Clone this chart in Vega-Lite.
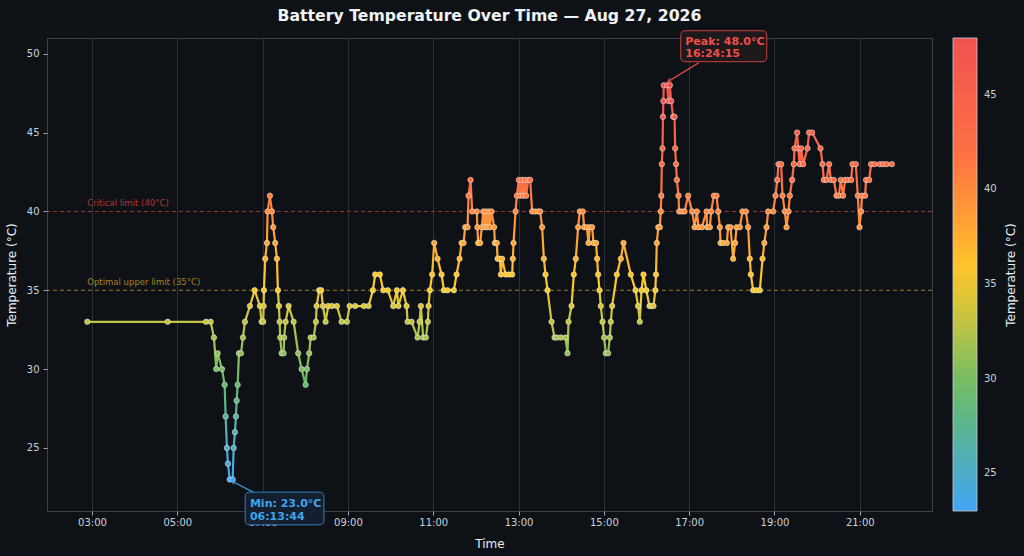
{
  "$schema": "https://vega.github.io/schema/vega-lite/v6.json",
  "width": 885,
  "height": 473,
  "autosize": {"type": "none"},
  "padding": {"left": 47, "top": 38, "right": 92, "bottom": 45},
  "background": "#0e1217",
  "title": {
    "text": "Battery Temperature Over Time — Aug 27, 2026",
    "font": "DejaVu Sans",
    "fontSize": 15.7,
    "fontWeight": "bold",
    "color": "#f0f3f6",
    "offset": 6
  },
  "datasets": {
    "limits": [
      {"limit": 40, "level": "critical", "label": "Critical limit (40°C)"},
      {"limit": 35, "level": "optimal", "label": "Optimal upper limit (35°C)"}
    ],
    "notes": [
      {"kind": "peak", "t": "2026-08-27T16:24:15", "temp": 48, "label": "Peak: 48.0°C\n16:24:15"},
      {"kind": "min", "t": "2026-08-27T06:13:44", "temp": 23, "label": "Min: 23.0°C\n06:13:44"}
    ],
    "readings": [
      {"t": "2026-08-27T02:53:23", "temp": 33},
      {"t": "2026-08-27T04:46:27", "temp": 33},
      {"t": "2026-08-27T05:40:18", "temp": 33},
      {"t": "2026-08-27T05:46:55", "temp": 33},
      {"t": "2026-08-27T05:51:33", "temp": 32},
      {"t": "2026-08-27T05:54:47", "temp": 30},
      {"t": "2026-08-27T05:56:45", "temp": 31},
      {"t": "2026-08-27T06:02:48", "temp": 30},
      {"t": "2026-08-27T06:06:36", "temp": 29},
      {"t": "2026-08-27T06:08:00", "temp": 27},
      {"t": "2026-08-27T06:09:50", "temp": 25},
      {"t": "2026-08-27T06:11:14", "temp": 24},
      {"t": "2026-08-27T06:13:44", "temp": 23},
      {"t": "2026-08-27T06:17:51", "temp": 23},
      {"t": "2026-08-27T06:19:16", "temp": 25},
      {"t": "2026-08-27T06:21:05", "temp": 26},
      {"t": "2026-08-27T06:22:29", "temp": 27},
      {"t": "2026-08-27T06:23:28", "temp": 28},
      {"t": "2026-08-27T06:24:53", "temp": 29},
      {"t": "2026-08-27T06:26:43", "temp": 31},
      {"t": "2026-08-27T06:29:31", "temp": 31},
      {"t": "2026-08-27T06:32:20", "temp": 32},
      {"t": "2026-08-27T06:35:08", "temp": 33},
      {"t": "2026-08-27T06:42:10", "temp": 34},
      {"t": "2026-08-27T06:48:47", "temp": 35},
      {"t": "2026-08-27T06:56:14", "temp": 34},
      {"t": "2026-08-27T06:58:37", "temp": 33},
      {"t": "2026-08-27T07:00:52", "temp": 33},
      {"t": "2026-08-27T07:01:26", "temp": 34},
      {"t": "2026-08-27T07:01:52", "temp": 35},
      {"t": "2026-08-27T07:03:41", "temp": 37},
      {"t": "2026-08-27T07:06:05", "temp": 38},
      {"t": "2026-08-27T07:07:04", "temp": 40},
      {"t": "2026-08-27T07:10:17", "temp": 41},
      {"t": "2026-08-27T07:13:07", "temp": 40},
      {"t": "2026-08-27T07:14:56", "temp": 39},
      {"t": "2026-08-27T07:17:45", "temp": 38},
      {"t": "2026-08-27T07:20:08", "temp": 37},
      {"t": "2026-08-27T07:21:32", "temp": 35},
      {"t": "2026-08-27T07:22:57", "temp": 34},
      {"t": "2026-08-27T07:23:56", "temp": 33},
      {"t": "2026-08-27T07:24:47", "temp": 32},
      {"t": "2026-08-27T07:26:45", "temp": 31},
      {"t": "2026-08-27T07:29:34", "temp": 31},
      {"t": "2026-08-27T07:30:16", "temp": 32},
      {"t": "2026-08-27T07:32:22", "temp": 33},
      {"t": "2026-08-27T07:36:35", "temp": 34},
      {"t": "2026-08-27T07:43:37", "temp": 33},
      {"t": "2026-08-27T07:50:05", "temp": 31},
      {"t": "2026-08-27T07:54:52", "temp": 30},
      {"t": "2026-08-27T08:00:30", "temp": 29},
      {"t": "2026-08-27T08:02:19", "temp": 30},
      {"t": "2026-08-27T08:05:34", "temp": 31},
      {"t": "2026-08-27T08:07:32", "temp": 32},
      {"t": "2026-08-27T08:11:45", "temp": 32},
      {"t": "2026-08-27T08:14:59", "temp": 33},
      {"t": "2026-08-27T08:15:58", "temp": 34},
      {"t": "2026-08-27T08:19:37", "temp": 35},
      {"t": "2026-08-27T08:22:26", "temp": 35},
      {"t": "2026-08-27T08:24:49", "temp": 34},
      {"t": "2026-08-27T08:28:37", "temp": 33},
      {"t": "2026-08-27T08:32:17", "temp": 34},
      {"t": "2026-08-27T08:37:29", "temp": 34},
      {"t": "2026-08-27T08:44:31", "temp": 34},
      {"t": "2026-08-27T08:51:07", "temp": 33},
      {"t": "2026-08-27T08:58:34", "temp": 33},
      {"t": "2026-08-27T09:02:22", "temp": 34},
      {"t": "2026-08-27T09:10:14", "temp": 34},
      {"t": "2026-08-27T09:22:28", "temp": 34},
      {"t": "2026-08-27T09:29:05", "temp": 34},
      {"t": "2026-08-27T09:35:08", "temp": 35},
      {"t": "2026-08-27T09:38:22", "temp": 36},
      {"t": "2026-08-27T09:44:58", "temp": 36},
      {"t": "2026-08-27T09:49:37", "temp": 35},
      {"t": "2026-08-27T09:56:13", "temp": 35},
      {"t": "2026-08-27T10:03:40", "temp": 34},
      {"t": "2026-08-27T10:08:53", "temp": 35},
      {"t": "2026-08-27T10:10:59", "temp": 34},
      {"t": "2026-08-27T10:17:19", "temp": 35},
      {"t": "2026-08-27T10:22:31", "temp": 34},
      {"t": "2026-08-27T10:23:55", "temp": 33},
      {"t": "2026-08-27T10:29:33", "temp": 33},
      {"t": "2026-08-27T10:37:59", "temp": 32},
      {"t": "2026-08-27T10:40:48", "temp": 33},
      {"t": "2026-08-27T10:42:37", "temp": 34},
      {"t": "2026-08-27T10:45:51", "temp": 32},
      {"t": "2026-08-27T10:49:39", "temp": 32},
      {"t": "2026-08-27T10:52:28", "temp": 33},
      {"t": "2026-08-27T10:53:27", "temp": 34},
      {"t": "2026-08-27T10:55:17", "temp": 35},
      {"t": "2026-08-27T10:58:31", "temp": 36},
      {"t": "2026-08-27T11:01:20", "temp": 38},
      {"t": "2026-08-27T11:06:07", "temp": 37},
      {"t": "2026-08-27T11:11:44", "temp": 36},
      {"t": "2026-08-27T11:14:58", "temp": 35},
      {"t": "2026-08-27T11:20:10", "temp": 35},
      {"t": "2026-08-27T11:29:02", "temp": 35},
      {"t": "2026-08-27T11:32:50", "temp": 36},
      {"t": "2026-08-27T11:37:03", "temp": 37},
      {"t": "2026-08-27T11:39:52", "temp": 38},
      {"t": "2026-08-27T11:42:40", "temp": 38},
      {"t": "2026-08-27T11:44:55", "temp": 39},
      {"t": "2026-08-27T11:48:18", "temp": 39},
      {"t": "2026-08-27T11:49:43", "temp": 41},
      {"t": "2026-08-27T11:52:31", "temp": 42},
      {"t": "2026-08-27T11:54:46", "temp": 40},
      {"t": "2026-08-27T12:01:22", "temp": 40},
      {"t": "2026-08-27T12:02:05", "temp": 39},
      {"t": "2026-08-27T12:03:12", "temp": 38},
      {"t": "2026-08-27T12:06:01", "temp": 38},
      {"t": "2026-08-27T12:08:24", "temp": 39},
      {"t": "2026-08-27T12:10:14", "temp": 40},
      {"t": "2026-08-27T12:12:37", "temp": 39},
      {"t": "2026-08-27T12:14:01", "temp": 40},
      {"t": "2026-08-27T12:16:08", "temp": 39},
      {"t": "2026-08-27T12:18:14", "temp": 40},
      {"t": "2026-08-27T12:19:39", "temp": 39},
      {"t": "2026-08-27T12:22:02", "temp": 40},
      {"t": "2026-08-27T12:25:42", "temp": 39},
      {"t": "2026-08-27T12:26:41", "temp": 38},
      {"t": "2026-08-27T12:29:29", "temp": 38},
      {"t": "2026-08-27T12:30:29", "temp": 37},
      {"t": "2026-08-27T12:33:43", "temp": 37},
      {"t": "2026-08-27T12:35:07", "temp": 36},
      {"t": "2026-08-27T12:36:57", "temp": 37},
      {"t": "2026-08-27T12:41:44", "temp": 36},
      {"t": "2026-08-27T12:46:22", "temp": 36},
      {"t": "2026-08-27T12:51:01", "temp": 36},
      {"t": "2026-08-27T12:52:00", "temp": 37},
      {"t": "2026-08-27T12:52:59", "temp": 38},
      {"t": "2026-08-27T12:55:47", "temp": 40},
      {"t": "2026-08-27T12:57:37", "temp": 41},
      {"t": "2026-08-27T13:00:26", "temp": 42},
      {"t": "2026-08-27T13:02:15", "temp": 41},
      {"t": "2026-08-27T13:04:39", "temp": 42},
      {"t": "2026-08-27T13:06:28", "temp": 41},
      {"t": "2026-08-27T13:08:52", "temp": 42},
      {"t": "2026-08-27T13:10:41", "temp": 41},
      {"t": "2026-08-27T13:13:30", "temp": 42},
      {"t": "2026-08-27T13:16:19", "temp": 42},
      {"t": "2026-08-27T13:19:08", "temp": 40},
      {"t": "2026-08-27T13:22:56", "temp": 40},
      {"t": "2026-08-27T13:27:34", "temp": 40},
      {"t": "2026-08-27T13:30:23", "temp": 40},
      {"t": "2026-08-27T13:33:11", "temp": 39},
      {"t": "2026-08-27T13:35:35", "temp": 37},
      {"t": "2026-08-27T13:37:58", "temp": 36},
      {"t": "2026-08-27T13:40:47", "temp": 35},
      {"t": "2026-08-27T13:46:25", "temp": 33},
      {"t": "2026-08-27T13:50:38", "temp": 32},
      {"t": "2026-08-27T13:53:52", "temp": 32},
      {"t": "2026-08-27T13:59:29", "temp": 32},
      {"t": "2026-08-27T14:06:05", "temp": 32},
      {"t": "2026-08-27T14:08:54", "temp": 31},
      {"t": "2026-08-27T14:10:19", "temp": 33},
      {"t": "2026-08-27T14:14:32", "temp": 34},
      {"t": "2026-08-27T14:17:46", "temp": 36},
      {"t": "2026-08-27T14:20:35", "temp": 37},
      {"t": "2026-08-27T14:23:49", "temp": 39},
      {"t": "2026-08-27T14:26:12", "temp": 40},
      {"t": "2026-08-27T14:30:25", "temp": 40},
      {"t": "2026-08-27T14:32:15", "temp": 39},
      {"t": "2026-08-27T14:36:02", "temp": 39},
      {"t": "2026-08-27T14:38:26", "temp": 38},
      {"t": "2026-08-27T14:40:16", "temp": 39},
      {"t": "2026-08-27T14:43:29", "temp": 39},
      {"t": "2026-08-27T14:45:28", "temp": 38},
      {"t": "2026-08-27T14:49:07", "temp": 38},
      {"t": "2026-08-27T14:50:31", "temp": 37},
      {"t": "2026-08-27T14:51:56", "temp": 36},
      {"t": "2026-08-27T14:53:54", "temp": 35},
      {"t": "2026-08-27T14:55:44", "temp": 34},
      {"t": "2026-08-27T14:58:07", "temp": 33},
      {"t": "2026-08-27T15:00:22", "temp": 32},
      {"t": "2026-08-27T15:02:46", "temp": 31},
      {"t": "2026-08-27T15:05:59", "temp": 31},
      {"t": "2026-08-27T15:08:23", "temp": 32},
      {"t": "2026-08-27T15:09:47", "temp": 33},
      {"t": "2026-08-27T15:11:37", "temp": 34},
      {"t": "2026-08-27T15:18:14", "temp": 36},
      {"t": "2026-08-27T15:23:51", "temp": 37},
      {"t": "2026-08-27T15:27:39", "temp": 38},
      {"t": "2026-08-27T15:37:55", "temp": 36},
      {"t": "2026-08-27T15:44:31", "temp": 35},
      {"t": "2026-08-27T15:48:11", "temp": 34},
      {"t": "2026-08-27T15:50:34", "temp": 33},
      {"t": "2026-08-27T15:52:58", "temp": 35},
      {"t": "2026-08-27T15:55:46", "temp": 36},
      {"t": "2026-08-27T15:59:43", "temp": 35},
      {"t": "2026-08-27T16:04:13", "temp": 34},
      {"t": "2026-08-27T16:07:01", "temp": 34},
      {"t": "2026-08-27T16:09:50", "temp": 34},
      {"t": "2026-08-27T16:12:22", "temp": 35},
      {"t": "2026-08-27T16:13:21", "temp": 36},
      {"t": "2026-08-27T16:14:29", "temp": 38},
      {"t": "2026-08-27T16:16:35", "temp": 39},
      {"t": "2026-08-27T16:18:42", "temp": 39},
      {"t": "2026-08-27T16:20:06", "temp": 40},
      {"t": "2026-08-27T16:20:49", "temp": 41},
      {"t": "2026-08-27T16:21:31", "temp": 43},
      {"t": "2026-08-27T16:22:30", "temp": 44},
      {"t": "2026-08-27T16:23:12", "temp": 46},
      {"t": "2026-08-27T16:23:46", "temp": 47},
      {"t": "2026-08-27T16:24:15", "temp": 48},
      {"t": "2026-08-27T16:29:03", "temp": 48},
      {"t": "2026-08-27T16:30:44", "temp": 47},
      {"t": "2026-08-27T16:32:51", "temp": 48},
      {"t": "2026-08-27T16:34:40", "temp": 47},
      {"t": "2026-08-27T16:37:29", "temp": 46},
      {"t": "2026-08-27T16:39:27", "temp": 46},
      {"t": "2026-08-27T16:40:18", "temp": 44},
      {"t": "2026-08-27T16:41:34", "temp": 43},
      {"t": "2026-08-27T16:42:42", "temp": 42},
      {"t": "2026-08-27T16:45:05", "temp": 41},
      {"t": "2026-08-27T16:45:56", "temp": 40},
      {"t": "2026-08-27T16:49:44", "temp": 40},
      {"t": "2026-08-27T16:53:32", "temp": 40},
      {"t": "2026-08-27T16:58:35", "temp": 41},
      {"t": "2026-08-27T17:04:13", "temp": 40},
      {"t": "2026-08-27T17:07:35", "temp": 39},
      {"t": "2026-08-27T17:10:49", "temp": 40},
      {"t": "2026-08-27T17:13:13", "temp": 39},
      {"t": "2026-08-27T17:17:51", "temp": 39},
      {"t": "2026-08-27T17:24:28", "temp": 40},
      {"t": "2026-08-27T17:25:19", "temp": 39},
      {"t": "2026-08-27T17:29:06", "temp": 39},
      {"t": "2026-08-27T17:30:56", "temp": 40},
      {"t": "2026-08-27T17:34:44", "temp": 41},
      {"t": "2026-08-27T17:38:31", "temp": 41},
      {"t": "2026-08-27T17:40:46", "temp": 40},
      {"t": "2026-08-27T17:43:10", "temp": 39},
      {"t": "2026-08-27T17:44:09", "temp": 38},
      {"t": "2026-08-27T17:47:48", "temp": 38},
      {"t": "2026-08-27T17:53:01", "temp": 38},
      {"t": "2026-08-27T17:54:50", "temp": 39},
      {"t": "2026-08-27T17:58:13", "temp": 39},
      {"t": "2026-08-27T18:01:52", "temp": 37},
      {"t": "2026-08-27T18:04:41", "temp": 38},
      {"t": "2026-08-27T18:06:39", "temp": 39},
      {"t": "2026-08-27T18:11:17", "temp": 39},
      {"t": "2026-08-27T18:15:05", "temp": 40},
      {"t": "2026-08-27T18:19:44", "temp": 40},
      {"t": "2026-08-27T18:22:58", "temp": 39},
      {"t": "2026-08-27T18:25:21", "temp": 37},
      {"t": "2026-08-27T18:26:45", "temp": 36},
      {"t": "2026-08-27T18:29:59", "temp": 35},
      {"t": "2026-08-27T18:34:46", "temp": 35},
      {"t": "2026-08-27T18:39:25", "temp": 35},
      {"t": "2026-08-27T18:43:13", "temp": 37},
      {"t": "2026-08-27T18:45:44", "temp": 38},
      {"t": "2026-08-27T18:48:50", "temp": 39},
      {"t": "2026-08-27T18:51:05", "temp": 40},
      {"t": "2026-08-27T18:58:07", "temp": 40},
      {"t": "2026-08-27T19:01:29", "temp": 41},
      {"t": "2026-08-27T19:04:01", "temp": 42},
      {"t": "2026-08-27T19:05:43", "temp": 43},
      {"t": "2026-08-27T19:09:22", "temp": 43},
      {"t": "2026-08-27T19:11:20", "temp": 41},
      {"t": "2026-08-27T19:14:34", "temp": 40},
      {"t": "2026-08-27T19:16:58", "temp": 39},
      {"t": "2026-08-27T19:19:46", "temp": 40},
      {"t": "2026-08-27T19:21:36", "temp": 41},
      {"t": "2026-08-27T19:24:50", "temp": 42},
      {"t": "2026-08-27T19:27:13", "temp": 43},
      {"t": "2026-08-27T19:28:12", "temp": 44},
      {"t": "2026-08-27T19:31:52", "temp": 45},
      {"t": "2026-08-27T19:33:16", "temp": 44},
      {"t": "2026-08-27T19:35:39", "temp": 43},
      {"t": "2026-08-27T19:37:29", "temp": 44},
      {"t": "2026-08-27T19:40:18", "temp": 43},
      {"t": "2026-08-27T19:46:29", "temp": 44},
      {"t": "2026-08-27T19:48:44", "temp": 45},
      {"t": "2026-08-27T19:52:57", "temp": 45},
      {"t": "2026-08-27T20:04:46", "temp": 44},
      {"t": "2026-08-27T20:07:35", "temp": 43},
      {"t": "2026-08-27T20:09:25", "temp": 42},
      {"t": "2026-08-27T20:13:13", "temp": 42},
      {"t": "2026-08-27T20:16:52", "temp": 43},
      {"t": "2026-08-27T20:19:15", "temp": 42},
      {"t": "2026-08-27T20:23:28", "temp": 42},
      {"t": "2026-08-27T20:27:16", "temp": 41},
      {"t": "2026-08-27T20:30:30", "temp": 41},
      {"t": "2026-08-27T20:33:19", "temp": 42},
      {"t": "2026-08-27T20:36:33", "temp": 41},
      {"t": "2026-08-27T20:39:22", "temp": 42},
      {"t": "2026-08-27T20:43:10", "temp": 42},
      {"t": "2026-08-27T20:47:48", "temp": 42},
      {"t": "2026-08-27T20:49:46", "temp": 43},
      {"t": "2026-08-27T20:54:25", "temp": 43},
      {"t": "2026-08-27T20:57:13", "temp": 41},
      {"t": "2026-08-27T20:59:37", "temp": 39},
      {"t": "2026-08-27T21:01:52", "temp": 40},
      {"t": "2026-08-27T21:03:16", "temp": 41},
      {"t": "2026-08-27T21:07:29", "temp": 41},
      {"t": "2026-08-27T21:08:53", "temp": 42},
      {"t": "2026-08-27T21:13:07", "temp": 42},
      {"t": "2026-08-27T21:15:56", "temp": 43},
      {"t": "2026-08-27T21:20:43", "temp": 43},
      {"t": "2026-08-27T21:28:10", "temp": 43},
      {"t": "2026-08-27T21:32:48", "temp": 43},
      {"t": "2026-08-27T21:37:35", "temp": 43},
      {"t": "2026-08-27T21:45:02", "temp": 43}
    ]
  },
  "layer": [
    {
      "data": {"name": "limits"},
      "encoding": {
        "y": {
          "field": "limit",
          "type": "quantitative",
          "scale": {"domain": [21, 51], "nice": false, "zero": false},
          "axis": {
            "orient": "right",
            "title": "Temperature (°C)",
            "labels": false,
            "ticks": false,
            "grid": false,
            "domain": false,
            "titleAngle": 270,
            "titleX": 78,
            "titleY": 236.5,
            "titleAlign": "center",
            "titleBaseline": "middle"
          }
        }
      },
      "layer": [
        {
          "mark": {"type": "rule", "strokeDash": [4, 3], "strokeWidth": 1, "opacity": 0.7},
          "encoding": {
            "stroke": {
              "field": "level",
              "type": "nominal",
              "scale": {"domain": ["critical", "optimal"], "range": ["#d9473f", "#d4a72c"]},
              "legend": null
            }
          }
        },
        {
          "mark": {"type": "text", "align": "left", "baseline": "bottom", "dy": -3, "fontSize": 8.5, "opacity": 0.75},
          "encoding": {
            "x": {"datum": {"year": 2026, "month": 8, "date": 27, "hours": 2, "minutes": 53, "seconds": 23}, "type": "temporal"},
            "text": {"field": "label"},
            "fill": {
              "field": "level",
              "type": "nominal",
              "scale": {"domain": ["critical", "optimal"], "range": ["#d9473f", "#d4a72c"]},
              "legend": null
            }
          }
        }
      ]
    },
    {
      "data": {"name": "readings", "format": {"parse": {"t": "date"}}},
      "encoding": {
        "x": {
          "field": "t",
          "type": "temporal",
          "title": "Time",
          "scale": {
            "domain": [
              {"year": 2026, "month": 8, "date": 27, "hours": 1, "minutes": 56, "seconds": 43},
              {"year": 2026, "month": 8, "date": 27, "hours": 22, "minutes": 41, "seconds": 35}
            ]
          },
          "axis": {
            "values": [
              {"year": 2026, "month": 8, "date": 27, "hours": 3},
              {"year": 2026, "month": 8, "date": 27, "hours": 5},
              {"year": 2026, "month": 8, "date": 27, "hours": 7},
              {"year": 2026, "month": 8, "date": 27, "hours": 9},
              {"year": 2026, "month": 8, "date": 27, "hours": 11},
              {"year": 2026, "month": 8, "date": 27, "hours": 13},
              {"year": 2026, "month": 8, "date": 27, "hours": 15},
              {"year": 2026, "month": 8, "date": 27, "hours": 17},
              {"year": 2026, "month": 8, "date": 27, "hours": 19},
              {"year": 2026, "month": 8, "date": 27, "hours": 21}
            ],
            "format": "%H:%M",
            "labelPadding": 2,
            "titlePadding": 11
          }
        },
        "y": {
          "field": "temp",
          "type": "quantitative",
          "title": "Temperature (°C)",
          "scale": {"domain": [21, 51], "nice": false, "zero": false},
          "axis": {"values": [25, 30, 35, 40, 45, 50], "labelPadding": 4, "titlePadding": 8}
        }
      },
      "layer": [
        {
          "mark": {
            "type": "line",
            "strokeWidth": 2.2,
            "color": {
              "gradient": "linear",
              "x1": 0, "y1": 1, "x2": 0, "y2": 0,
              "stops": [
                {"offset": 0, "color": "#42A5F5"},
                {"offset": 0.25, "color": "#66BB6A"},
                {"offset": 0.5, "color": "#FFCA28"},
                {"offset": 0.75, "color": "#FF7043"},
                {"offset": 1, "color": "#EF5350"}
              ]
            }
          }
        },
        {
          "mark": {"type": "point", "filled": true, "size": 30, "opacity": 1, "stroke": "#ffffff", "strokeWidth": 0.7, "strokeOpacity": 0.65},
          "encoding": {
            "color": {
              "field": "temp",
              "type": "quantitative",
              "scale": {
                "domain": [23, 29.25, 35.5, 41.75, 48],
                "range": ["#42A5F5", "#66BB6A", "#FFCA28", "#FF7043", "#EF5350"],
                "interpolate": "rgb"
              },
              "legend": {
                "orient": "none",
                "legendX": 906,
                "legendY": 0,
                "direction": "vertical",
                "gradientLength": 473,
                "gradientThickness": 24,
                "gradientStrokeColor": "#c9d1d9",
                "gradientStrokeWidth": 0.8,
                "values": [25, 30, 35, 40, 45],
                "title": null,
                "labelColor": "#c9d1d9",
                "labelFont": "DejaVu Sans",
                "labelFontSize": 10,
                "labelOffset": 7
              }
            }
          }
        },
        {
          "data": {"name": "notes", "format": {"parse": {"t": "date"}}},
          "transform": [{"filter": "datum.kind === 'peak'"}],
          "layer": [
            {
              "mark": {"type": "rule", "color": "#ef5350", "strokeWidth": 1.2, "xOffset": 4, "yOffset": -3.5, "x2Offset": 35, "y2Offset": -22.5},
              "encoding": {"x2": {"field": "t"}, "y2": {"field": "temp"}}
            },
            {
              "mark": {"type": "point", "shape": "M-0.55,0.85L0,0L0.55,0.85", "filled": false, "size": 70, "angle": 238.5, "stroke": "#ef5350", "strokeWidth": 1.2, "xOffset": 4, "yOffset": -3.5}
            },
            {
              "mark": {"type": "rect", "fill": "#1f1a1e", "fillOpacity": 0.92, "stroke": "#c9403c", "strokeWidth": 1, "cornerRadius": 4, "xOffset": 17, "x2Offset": 103, "yOffset": -54.6, "y2Offset": -23.6},
              "encoding": {"x2": {"field": "t"}, "y2": {"field": "temp"}}
            },
            {
              "mark": {"type": "text", "align": "left", "baseline": "middle", "dx": 21.5, "dy": -43.5, "lineBreak": "\n", "lineHeight": 12.5, "font": "DejaVu Sans", "fontSize": 11, "fontWeight": "bold", "color": "#ef4f48"},
              "encoding": {"text": {"field": "label"}}
            }
          ]
        },
        {
          "data": {"name": "notes", "format": {"parse": {"t": "date"}}},
          "transform": [{"filter": "datum.kind === 'min'"}],
          "layer": [
            {
              "mark": {"type": "rule", "color": "#42a5f5", "strokeWidth": 1.2, "xOffset": 2, "yOffset": 1.5, "x2Offset": 23.5, "y2Offset": 12.7},
              "encoding": {"x2": {"field": "t"}, "y2": {"field": "temp"}}
            },
            {
              "mark": {"type": "point", "shape": "M-0.55,0.85L0,0L0.55,0.85", "filled": false, "size": 70, "angle": 297.5, "stroke": "#42a5f5", "strokeWidth": 1.2, "xOffset": 2, "yOffset": 1.5}
            },
            {
              "mark": {"type": "rect", "fill": "#14212f", "fillOpacity": 0.95, "stroke": "#2f7fc4", "strokeWidth": 1, "cornerRadius": 4, "xOffset": 15.5, "x2Offset": 94.2, "yOffset": 12.7, "y2Offset": 45.4},
              "encoding": {"x2": {"field": "t"}, "y2": {"field": "temp"}}
            },
            {
              "mark": {"type": "text", "align": "left", "baseline": "middle", "dx": 20.2, "dy": 24.6, "lineBreak": "\n", "lineHeight": 12.5, "font": "DejaVu Sans", "fontSize": 11, "fontWeight": "bold", "color": "#3ea4ef"},
              "encoding": {"text": {"field": "label"}}
            }
          ]
        }
      ]
    }
  ],
  "resolve": {"scale": {"y": "independent"}, "axis": {"y": "independent"}},
  "config": {
    "font": "DejaVu Sans",
    "view": {"fill": "#0e1217", "stroke": "#3a4048", "strokeWidth": 1},
    "axis": {
      "domain": false,
      "grid": true,
      "gridColor": "#2a3038",
      "gridWidth": 1,
      "tickColor": "#9aa4ae",
      "tickSize": 4,
      "labelColor": "#c9d1d9",
      "labelFont": "DejaVu Sans",
      "labelFontSize": 10,
      "titleColor": "#e6edf3",
      "titleFont": "DejaVu Sans",
      "titleFontSize": 12,
      "titleFontWeight": "normal"
    }
  }
}
